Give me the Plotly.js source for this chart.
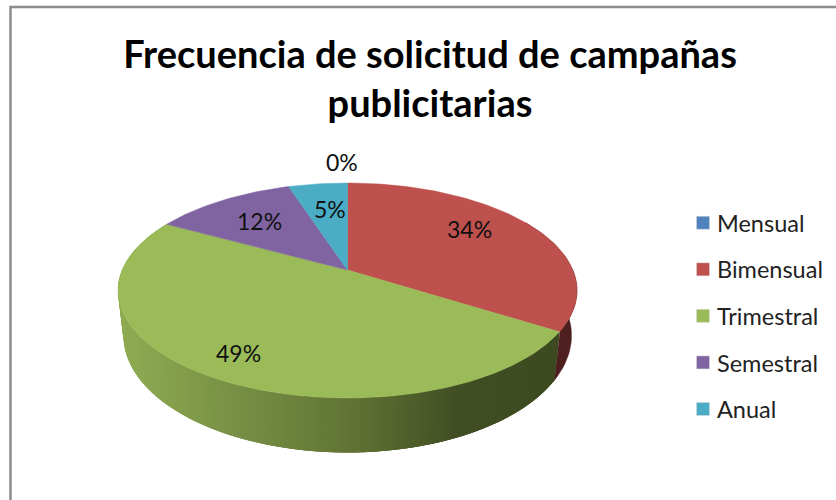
<!DOCTYPE html>
<html><head><meta charset="utf-8">
<script src="https://cdn.plot.ly/plotly-3.0.1.min.js"></script>
<style>html,body{margin:0;padding:0;background:#fff;overflow:hidden}#chart{width:836px;height:500px}</style>
</head><body><div id="chart"></div>
<script>
const categories = ["Mensual","Bimensual","Trimestral","Semestral","Anual"];
const values = [0,34,49,12,5];
const colors = ["#4f81bd","#be504d","#9bbb59","#8064a2","#4bacc6"];
const wallColors = ["#2a4566","#4d1f1e","#3d4a20","#3f3151","#215968"];
const titleText = "Frecuencia de solicitud de campañas<br>publicitarias";

// Perspective projection of the pie disc
const cx=347.5, cy=270, A=103.6, B=225.3, K=0.1907;
const proj=(deg,r,sx,sy,dy)=>{
  const t=deg*Math.PI/180, u=r*Math.sin(t), v=-r*Math.cos(t), p=1/(1-K*v);
  return [cx+sx*B*u*p, cy+dy+sy*A*v*p];
};
const top3=(deg,r=1)=>proj(deg,r,1,1,0);
const bot3=(deg)=>proj(deg,1,0.976,1.088,43.2);

const traces=[];
const total=values.reduce((a,b)=>a+b,0);
const slices=[]; let acc=0;
values.forEach((v,i)=>{const s=acc/total*360; acc+=v; slices.push([s,acc/total*360,i]);});

// gradient on the side wall of the large slice
const stops=[[118,[0x8f,0xab,0x52]],[230,[0x76,0x8f,0x44]],[347,[0x5f,0x72,0x33]],[450,[0x41,0x4e,0x23]],[560,[0x3d,0x4a,0x20]]];
const shade=x=>{
  for(let i=1;i<stops.length;i++){ if(x<=stops[i][0]){
    const f=Math.max(0,(x-stops[i-1][0])/(stops[i][0]-stops[i-1][0]));
    const c=stops[i-1][1].map((a,j)=>Math.round(a+(stops[i][1][j]-a)*f));
    return `rgb(${c})`; } }
  return `rgb(${stops[stops.length-1][1]})`;
};
const poly=(pts,color,lw)=>({type:"scatter",mode:"lines",x:pts.map(p=>p[0]),y:pts.map(p=>p[1]),fill:"toself",fillcolor:color,
  line:{color:color,width:lw},showlegend:false,hoverinfo:"skip"});

// side walls: each strip overlaps the one painted before it, so no seams appear
slices.forEach(([s,e,i])=>{
  if(e-s<=0||s>=300) return;
  const from=Math.max(s,60), to=Math.min(e,300);
  if(to<=from) return;
  if(i!==2){
    const pts=[]; for(let a=from;a<=to+1e-6;a+=2) pts.push(top3(a));
    for(let a=to;a>=from-1e-6;a-=2) pts.push(bot3(a));
    traces.push(poly(pts,wallColors[i],0.5));
  } else {
    const step=1;
    for(let a=from;a<to-1e-6;a+=step){
      const b=Math.min(a+step,to), a0=Math.max(from,a-2*step);
      const q=[top3(a0),top3(a),top3(b),bot3(b),bot3(a),bot3(a0),top3(a0)];
      traces.push(poly(q,shade((top3(a)[0]+top3(b)[0])/2),0));
    }
  }
});
// top faces
slices.forEach(([s,e,i])=>{
  if(e-s<=0) return;
  const pts=[top3(0,0)];
  for(let a=s;a<e;a+=1) pts.push(top3(a));
  pts.push(top3(e),top3(0,0));
  traces.push(poly(pts,colors[i],0.5));
});
// legend entries
categories.forEach((c,i)=>traces.push({type:"scatter",mode:"markers",x:[null],y:[null],name:c,legendgroup:c,
  marker:{symbol:"square",size:13,color:colors[i],line:{color:"#d9d9d9",width:0.5}},hoverinfo:"skip"}));

const labelAt=[[342,162],[469,229],[238,353],[259,221],[330,209]];
const layout={
  width:836,height:500,margin:{l:0,r:0,t:0,b:0},paper_bgcolor:"#fff",plot_bgcolor:"#fff",
  font:{family:"Lato, sans-serif",color:"#111"},
  title:{text:titleText,x:430/836,xanchor:"center",xref:"paper",y:0.865,yref:"container",yanchor:"top",font:{family:"Lato, sans-serif",size:38,color:"#000",weight:700}},
  xaxis:{range:[0,836],visible:false,fixedrange:true},
  yaxis:{range:[500,0],visible:false,fixedrange:true},
  showlegend:true,
  legend:{x:677/836,y:1-201/500,xanchor:"left",yanchor:"top",bgcolor:"rgba(0,0,0,0)",traceorder:"grouped",tracegroupgap:13,itemwidth:30,font:{family:"Lato, sans-serif",size:23.5,color:"#222"}},
  annotations:values.map((v,i)=>({x:labelAt[i][0],y:labelAt[i][1],xref:"x",yref:"y",text:v+"%",showarrow:false,font:{family:"Lato, sans-serif",size:23,color:"#111"}})),
  shapes:[{type:"rect",xref:"paper",yref:"paper",x0:10.5/836,x1:1.01,y0:-0.01,y1:1-7/500,line:{color:"#8c8c8c",width:2.5},layer:"below"}]
};
Plotly.newPlot("chart",traces,layout,{displayModeBar:false,staticPlot:true}).then(()=>{
  // the reference sets its swatches closer to the labels than the legend's minimum item width allows
  document.querySelectorAll("#chart .legendsymbols").forEach(g=>g.setAttribute("transform","translate(6,0)"));
});
</script></body></html>
